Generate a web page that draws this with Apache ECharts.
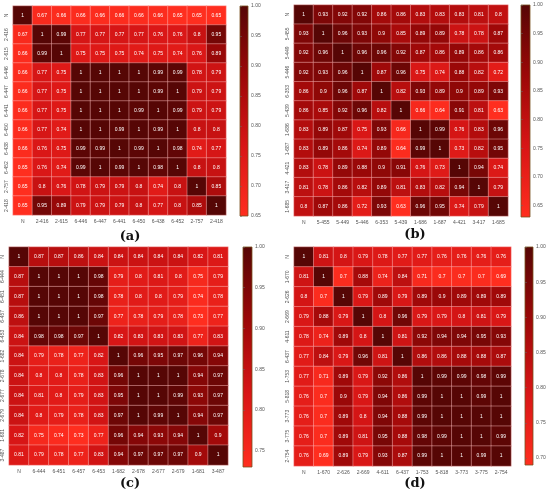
<!DOCTYPE html>
<html>
<head>
<meta charset="utf-8">
<script src="https://cdn.jsdelivr.net/npm/echarts@6/dist/echarts.min.js"></script>
<style>
  html, body { margin: 0; padding: 0; background: #fff; }
  #chart { width: 550px; height: 494px; }
</style>
</head>
<body>
<div id="chart"></div>
<script>
// 各面板标签与相关系数矩阵
const labelsA = ["N", "2-416", "2-615", "6-446", "6-447", "6-441", "6-450", "6-438", "6-452", "2-757", "2-418"];
const matrixA = [
  [1, 0.67, 0.66, 0.66, 0.66, 0.66, 0.66, 0.66, 0.65, 0.65, 0.65],
  [0.67, 1, 0.99, 0.77, 0.77, 0.77, 0.77, 0.76, 0.76, 0.8, 0.95],
  [0.66, 0.99, 1, 0.75, 0.75, 0.75, 0.74, 0.75, 0.74, 0.76, 0.89],
  [0.66, 0.77, 0.75, 1, 1, 1, 1, 0.99, 0.99, 0.78, 0.79],
  [0.66, 0.77, 0.75, 1, 1, 1, 1, 0.99, 1, 0.79, 0.79],
  [0.66, 0.77, 0.75, 1, 1, 1, 0.99, 1, 0.99, 0.79, 0.79],
  [0.66, 0.77, 0.74, 1, 1, 0.99, 1, 0.99, 1, 0.8, 0.8],
  [0.66, 0.76, 0.75, 0.99, 0.99, 1, 0.99, 1, 0.98, 0.74, 0.77],
  [0.65, 0.76, 0.74, 0.99, 1, 0.99, 1, 0.98, 1, 0.8, 0.8],
  [0.65, 0.8, 0.76, 0.78, 0.79, 0.79, 0.8, 0.74, 0.8, 1, 0.85],
  [0.65, 0.95, 0.89, 0.79, 0.79, 0.79, 0.8, 0.77, 0.8, 0.85, 1]
];

const labelsB = ["N", "5-455", "5-449", "5-446", "6-353", "5-439", "1-686", "1-687", "4-421", "3-417", "1-685"];
const matrixB = [
  [1, 0.93, 0.92, 0.92, 0.86, 0.86, 0.83, 0.83, 0.83, 0.81, 0.8],
  [0.93, 1, 0.96, 0.93, 0.9, 0.85, 0.89, 0.89, 0.78, 0.78, 0.87],
  [0.92, 0.96, 1, 0.96, 0.96, 0.92, 0.87, 0.86, 0.89, 0.86, 0.86],
  [0.92, 0.93, 0.96, 1, 0.87, 0.96, 0.75, 0.74, 0.88, 0.82, 0.72],
  [0.86, 0.9, 0.96, 0.87, 1, 0.82, 0.93, 0.89, 0.9, 0.89, 0.93],
  [0.86, 0.85, 0.92, 0.96, 0.82, 1, 0.66, 0.64, 0.91, 0.81, 0.63],
  [0.83, 0.89, 0.87, 0.75, 0.93, 0.66, 1, 0.99, 0.76, 0.83, 0.96],
  [0.83, 0.89, 0.86, 0.74, 0.89, 0.64, 0.99, 1, 0.73, 0.82, 0.95],
  [0.83, 0.78, 0.89, 0.88, 0.9, 0.91, 0.76, 0.73, 1, 0.94, 0.74],
  [0.81, 0.78, 0.86, 0.82, 0.89, 0.81, 0.83, 0.82, 0.94, 1, 0.79],
  [0.8, 0.87, 0.86, 0.72, 0.93, 0.63, 0.96, 0.95, 0.74, 0.79, 1]
];

const labelsC = ["N", "6-444", "6-451", "6-457", "6-453", "1-682", "2-678", "2-677", "2-679", "1-681", "3-487"];
const matrixC = [
  [1, 0.87, 0.87, 0.86, 0.84, 0.84, 0.84, 0.84, 0.84, 0.82, 0.81],
  [0.87, 1, 1, 1, 0.98, 0.79, 0.8, 0.81, 0.8, 0.75, 0.79],
  [0.87, 1, 1, 1, 0.98, 0.78, 0.8, 0.8, 0.79, 0.74, 0.78],
  [0.86, 1, 1, 1, 0.97, 0.77, 0.78, 0.79, 0.78, 0.73, 0.77],
  [0.84, 0.98, 0.98, 0.97, 1, 0.82, 0.83, 0.83, 0.83, 0.77, 0.83],
  [0.84, 0.79, 0.78, 0.77, 0.82, 1, 0.96, 0.95, 0.97, 0.96, 0.94],
  [0.84, 0.8, 0.8, 0.78, 0.83, 0.96, 1, 1, 1, 0.94, 0.97],
  [0.84, 0.81, 0.8, 0.79, 0.83, 0.95, 1, 1, 0.99, 0.93, 0.97],
  [0.84, 0.8, 0.79, 0.78, 0.83, 0.97, 1, 0.99, 1, 0.94, 0.97],
  [0.82, 0.75, 0.74, 0.73, 0.77, 0.96, 0.94, 0.93, 0.94, 1, 0.9],
  [0.81, 0.79, 0.78, 0.77, 0.83, 0.94, 0.97, 0.97, 0.97, 0.9, 1]
];

const labelsD = ["N", "1-670", "2-626", "2-669", "4-611", "6-437", "1-753", "5-818", "3-773", "3-775", "2-754"];
const matrixD = [
  [1, 0.81, 0.8, 0.79, 0.78, 0.77, 0.77, 0.76, 0.76, 0.76, 0.76],
  [0.81, 1, 0.7, 0.88, 0.74, 0.84, 0.71, 0.7, 0.7, 0.7, 0.69],
  [0.8, 0.7, 1, 0.79, 0.89, 0.79, 0.89, 0.9, 0.89, 0.89, 0.89],
  [0.79, 0.88, 0.79, 1, 0.8, 0.96, 0.79, 0.79, 0.8, 0.81, 0.79],
  [0.78, 0.74, 0.89, 0.8, 1, 0.81, 0.92, 0.94, 0.94, 0.95, 0.93],
  [0.77, 0.84, 0.79, 0.96, 0.81, 1, 0.86, 0.86, 0.88, 0.88, 0.87],
  [0.77, 0.71, 0.89, 0.79, 0.92, 0.86, 1, 0.99, 0.99, 0.98, 0.99],
  [0.76, 0.7, 0.9, 0.79, 0.94, 0.86, 0.99, 1, 1, 0.99, 1],
  [0.76, 0.7, 0.89, 0.8, 0.94, 0.88, 0.99, 1, 1, 1, 1],
  [0.76, 0.7, 0.89, 0.81, 0.95, 0.88, 0.98, 0.99, 1, 1, 0.99],
  [0.76, 0.69, 0.89, 0.79, 0.93, 0.87, 0.99, 1, 1, 0.99, 1]
];

// 色条刻度
const ticksA = [0.65, 0.7, 0.75, 0.8, 0.85, 0.9, 0.95, 1];
const ticksB = [0.65, 0.7, 0.75, 0.8, 0.85, 0.9, 0.95, 1];
const ticksC = [0.75, 0.8, 0.85, 0.9, 0.95, 1];
const ticksD = [0.7, 0.75, 0.8, 0.85, 0.9, 0.95, 1];

const tags = ["(a)", "(b)", "(c)", "(d)"];

// 布局
const panels = [
  { labels: labelsA, matrix: matrixA, ticks: ticksA, tag: tags[0],
    grid: { left: 13, top: 6, width: 213, height: 209 },
    bar: { left: 240, top: 6, w: 8, h: 210 }, tagPos: [130, 237] },
  { labels: labelsB, matrix: matrixB, ticks: ticksB, tag: tags[1],
    grid: { left: 294, top: 5, width: 214, height: 211 },
    bar: { left: 521, top: 5, w: 9, h: 212 }, tagPos: [415, 235] },
  { labels: labelsC, matrix: matrixC, ticks: ticksC, tag: tags[2],
    grid: { left: 9, top: 247, width: 219, height: 218 },
    bar: { left: 243, top: 247, w: 9, h: 220 }, tagPos: [130, 484] },
  { labels: labelsD, matrix: matrixD, ticks: ticksD, tag: tags[3],
    grid: { left: 294, top: 247, width: 217, height: 219 },
    bar: { left: 525, top: 247, w: 8, h: 218 }, tagPos: [415, 484] }
];

const colors = ["#ff2e1f", "#d81616", "#9c0808", "#560605"];

const grid = [], xAxis = [], yAxis = [], series = [], visualMap = [], graphic = [];

panels.forEach((p, k) => {
  const flat = p.matrix.flat();
  const vmin = Math.min(...flat);
  const vmax = Math.max(...flat);
  const data = [];
  p.matrix.forEach((row, i) => row.forEach((v, j) => data.push([j, i, v])));

  // 热力图
  grid.push(p.grid);
  xAxis.push({
    type: "category", gridIndex: 2 * k, data: p.labels,
    axisLine: { show: false }, axisTick: { show: false },
    axisLabel: { fontSize: 5, color: "#555", margin: 4, interval: 0 },
    splitArea: { show: false }
  });
  yAxis.push({
    type: "category", gridIndex: 2 * k, data: p.labels, inverse: true,
    axisLine: { show: false }, axisTick: { show: false },
    axisLabel: { fontSize: 5, color: "#555", margin: 4, rotate: 90, interval: 0 },
    splitArea: { show: false }
  });
  series.push({
    type: "heatmap", xAxisIndex: 2 * k, yAxisIndex: 2 * k, data: data,
    label: { show: true, fontSize: 5, color: "#fff", formatter: (d) => String(d.value[2]) },
    itemStyle: { borderColor: "rgba(255,190,190,0.75)", borderWidth: 0.6 },
    emphasis: { disabled: true }
  });

  // 色条坐标轴
  grid.push({ left: p.bar.left, top: p.bar.top, width: p.bar.w, height: p.bar.h });
  xAxis.push({ type: "value", gridIndex: 2 * k + 1, show: false });
  yAxis.push({
    type: "value", gridIndex: 2 * k + 1, position: "right", min: vmin, max: vmax,
    axisLine: { show: false },
    splitLine: { show: false },
    axisTick: { show: true, length: 2, customValues: p.ticks, lineStyle: { color: "#666", width: 0.5 } },
    axisLabel: { fontSize: 5, color: "#555", margin: 3, customValues: p.ticks,
      formatter: (v) => v.toFixed(2) }
  });

  visualMap.push({
    type: "continuous", seriesIndex: k, min: vmin, max: vmax,
    show: false, inRange: { color: colors }
  });

  // 色条（矩形渐变）
  graphic.push({
    type: "rect", shape: { x: p.bar.left, y: p.bar.top, width: p.bar.w, height: p.bar.h },
    style: {
      fill: new echarts.graphic.LinearGradient(0, 1, 0, 0, colors.map((c, i) => ({
        offset: i / (colors.length - 1), color: c
      }))),
      stroke: "rgba(120,80,30,0.8)", lineWidth: 1
    }
  });

  graphic.push({
    type: "text", x: p.tagPos[0], y: p.tagPos[1],
    style: {
      text: p.tag, font: "bold 13px 'DejaVu Serif', 'Liberation Serif', serif",
      fill: "#111", align: "center", verticalAlign: "middle"
    }
  });
});

const chart = echarts.init(document.getElementById("chart"));
chart.setOption({
  backgroundColor: "#fff",
  animation: false,
  grid, xAxis, yAxis, series, visualMap, graphic
});
</script>
</body>
</html>
